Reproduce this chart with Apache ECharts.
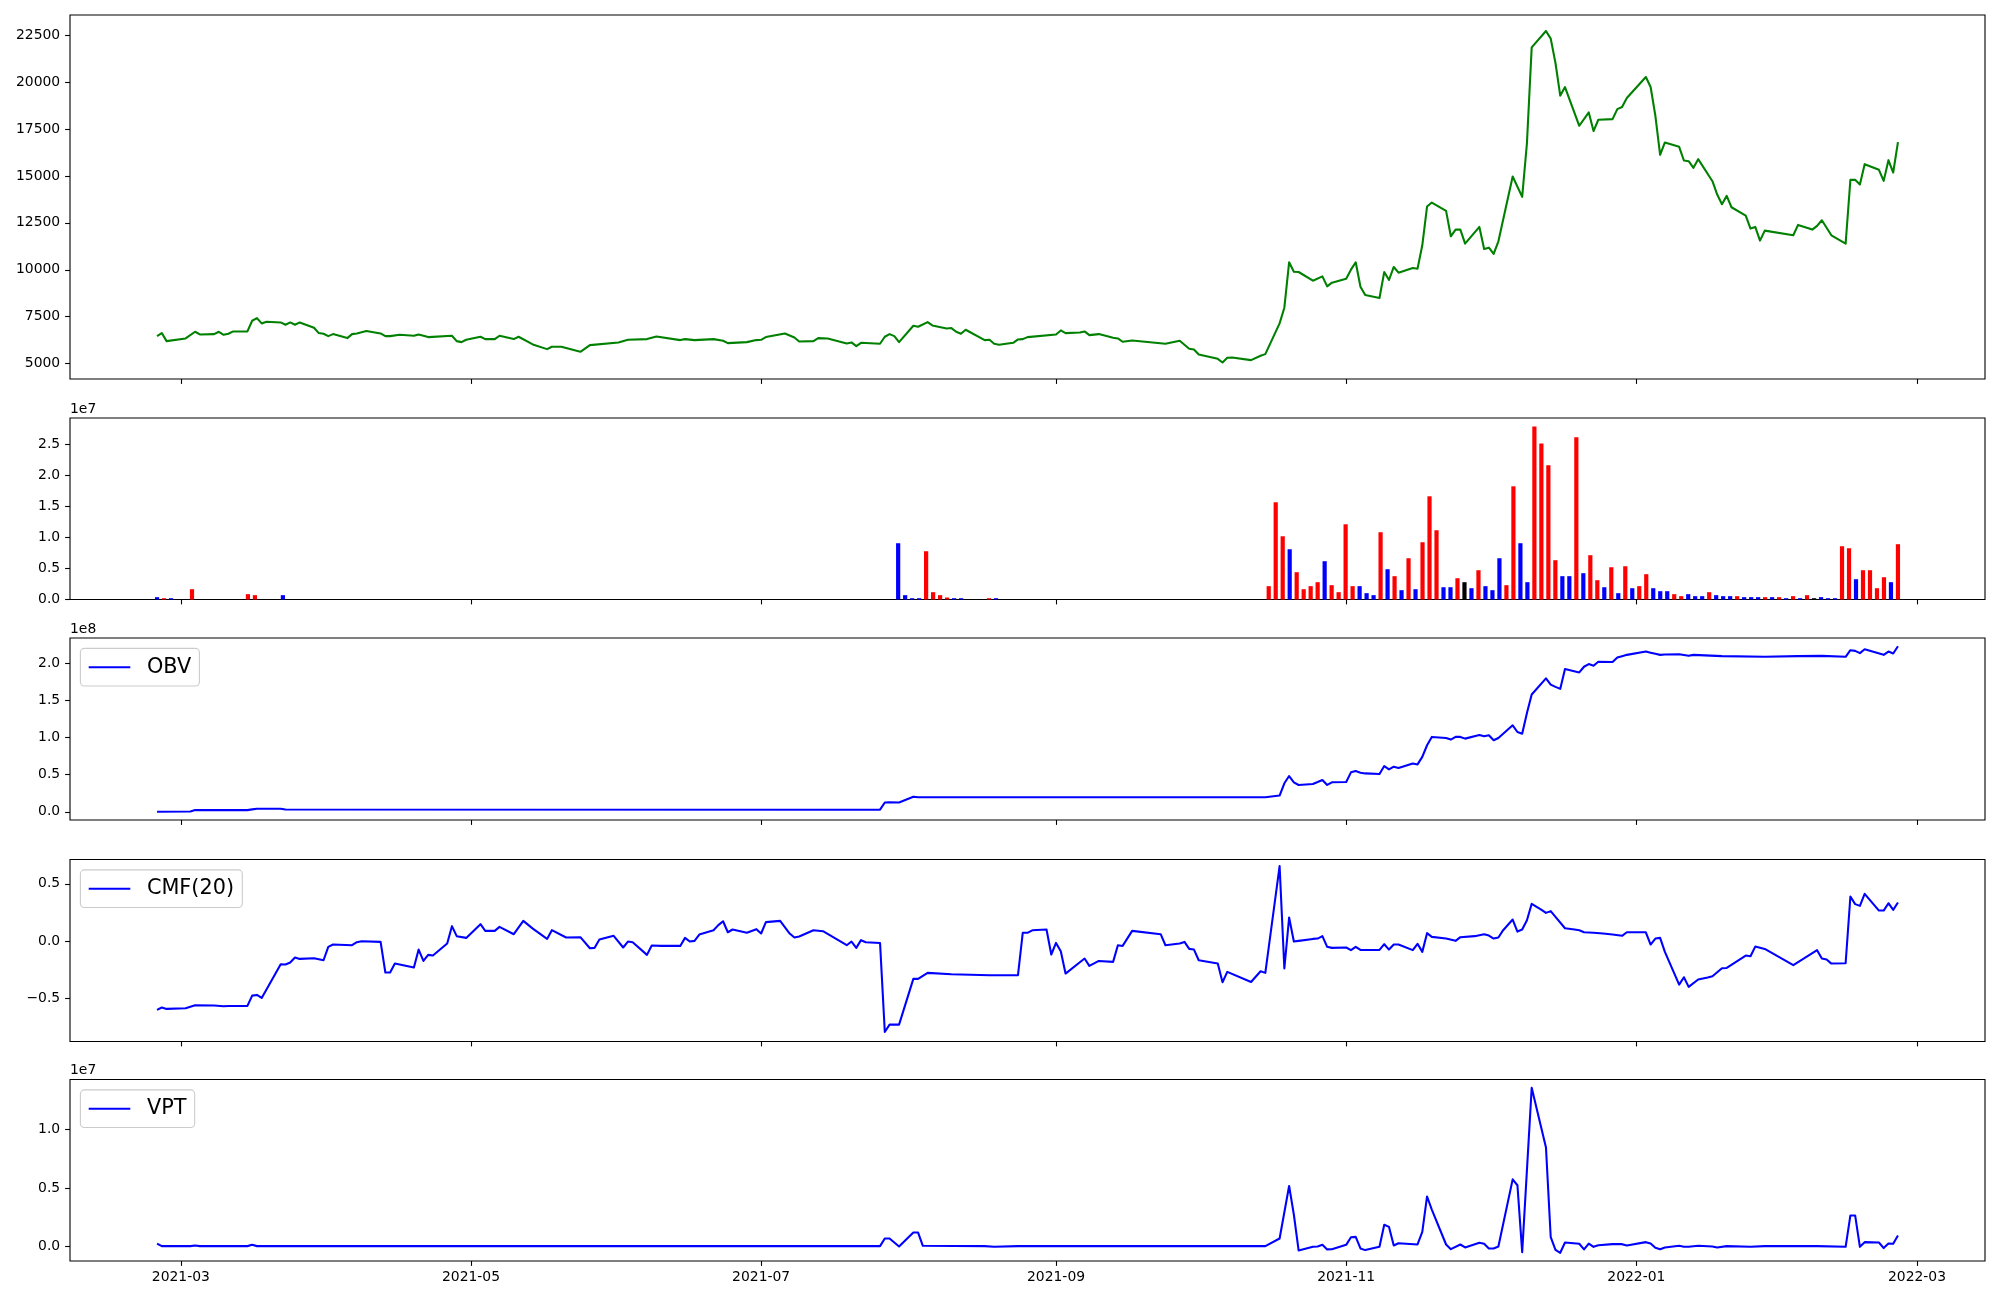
<!DOCTYPE html>
<html><head><meta charset="utf-8">
<script src="https://cdn.jsdelivr.net/npm/echarts@6/dist/echarts.min.js"></script>
<style>html,body{margin:0;padding:0;background:#fff}#c{width:2000px;height:1300px}</style>
</head><body><div id="c"></div>
<script>
// ---------- DATA ----------
const priceData = [
['2021-02-24',6460],['2021-02-25',6621],['2021-02-26',6193],['2021-03-02',6336],['2021-03-04',6692],['2021-03-05',6549],
['2021-03-08',6567],['2021-03-09',6692],['2021-03-10',6532],['2021-03-11',6585],['2021-03-12',6710],['2021-03-15',6710],
['2021-03-16',7280],['2021-03-17',7422],['2021-03-18',7137],['2021-03-19',7226],['2021-03-22',7190],['2021-03-23',7066],
['2021-03-24',7190],['2021-03-25',7066],['2021-03-26',7190],['2021-03-29',6906],['2021-03-30',6621],['2021-03-31',6585],
['2021-04-01',6460],['2021-04-02',6567],['2021-04-05',6354],['2021-04-06',6567],['2021-04-07',6603],['2021-04-09',6728],
['2021-04-12',6603],['2021-04-13',6460],['2021-04-14',6460],['2021-04-16',6532],['2021-04-19',6478],['2021-04-20',6549],
['2021-04-22',6407],['2021-04-27',6478],['2021-04-28',6193],['2021-04-29',6140],['2021-04-30',6264],['2021-05-03',6425],
['2021-05-04',6300],['2021-05-06',6300],['2021-05-07',6478],['2021-05-10',6300],['2021-05-11',6425],['2021-05-14',6015],
['2021-05-17',5766],['2021-05-18',5890],['2021-05-20',5890],['2021-05-24',5623],['2021-05-26',5980],['2021-06-01',6122],
['2021-06-03',6264],['2021-06-07',6300],['2021-06-09',6443],['2021-06-14',6247],['2021-06-15',6300],['2021-06-17',6247],
['2021-06-21',6300],['2021-06-23',6211],['2021-06-24',6086],['2021-06-28',6140],['2021-06-30',6247],['2021-07-01',6264],
['2021-07-02',6407],['2021-07-06',6603],['2021-07-08',6389],['2021-07-09',6175],['2021-07-12',6193],['2021-07-13',6354],
['2021-07-15',6336],['2021-07-19',6069],['2021-07-20',6122],['2021-07-21',5926],['2021-07-22',6104],['2021-07-26',6051],
['2021-07-27',6425],['2021-07-28',6567],['2021-07-29',6460],['2021-07-30',6140],['2021-08-02',7013],['2021-08-03',6959],
['2021-08-05',7208],['2021-08-06',7030],['2021-08-09',6870],['2021-08-10',6888],['2021-08-11',6692],['2021-08-12',6585],
['2021-08-13',6799],['2021-08-17',6247],['2021-08-18',6264],['2021-08-19',6051],['2021-08-20',5997],['2021-08-23',6104],
['2021-08-24',6282],['2021-08-25',6300],['2021-08-26',6407],['2021-09-01',6549],['2021-09-02',6763],['2021-09-03',6621],
['2021-09-06',6656],['2021-09-07',6710],['2021-09-08',6514],['2021-09-10',6567],['2021-09-13',6371],['2021-09-14',6336],
['2021-09-15',6158],['2021-09-17',6229],['2021-09-24',6051],['2021-09-27',6211],['2021-09-29',5784],['2021-09-30',5748],
['2021-10-01',5481],['2021-10-05',5249],['2021-10-06',5053],['2021-10-07',5303],['2021-10-08',5320],['2021-10-12',5178],
['2021-10-14',5410],['2021-10-15',5499],['2021-10-18',7137],['2021-10-19',7974],['2021-10-20',10397],['2021-10-21',9898],
['2021-10-22',9880],['2021-10-25',9417],['2021-10-27',9648],['2021-10-28',9114],['2021-10-29',9310],['2021-11-01',9524],
['2021-11-02',10005],['2021-11-03',10397],['2021-11-04',9096],['2021-11-05',8651],['2021-11-08',8491],['2021-11-09',9880],
['2021-11-10',9453],['2021-11-11',10148],['2021-11-12',9844],['2021-11-15',10094],['2021-11-16',10058],['2021-11-17',11305],
['2021-11-18',13371],['2021-11-19',13584],['2021-11-22',13139],['2021-11-23',11786],['2021-11-24',12142],['2021-11-25',12142],
['2021-11-26',11394],['2021-11-29',12285],['2021-11-30',11109],['2021-12-01',11180],['2021-12-02',10842],['2021-12-03',11518],
['2021-12-06',14974],['2021-12-08',13887],['2021-12-09',16755],['2021-12-10',21866],['2021-12-13',22739],['2021-12-14',22329],
['2021-12-15',21029],['2021-12-16',19284],['2021-12-17',19747],['2021-12-20',17681],['2021-12-22',18393],['2021-12-23',17396],
['2021-12-24',18001],['2021-12-27',18037],['2021-12-28',18571],['2021-12-29',18678],['2021-12-30',19159],['2022-01-03',20281],
['2022-01-04',19747],['2022-01-05',18215],['2022-01-06',16131],['2022-01-07',16790],['2022-01-10',16559],['2022-01-11',15828],
['2022-01-12',15793],['2022-01-13',15437],['2022-01-14',15900],['2022-01-17',14724],['2022-01-18',14012],['2022-01-19',13495],
['2022-01-20',13941],['2022-01-21',13335],['2022-01-24',12890],['2022-01-25',12195],['2022-01-26',12285],['2022-01-27',11554],
['2022-01-28',12088],['2022-02-03',11839],['2022-02-04',12391],['2022-02-07',12142],['2022-02-08',12338],['2022-02-09',12641],
['2022-02-11',11839],['2022-02-14',11394],['2022-02-15',14796],['2022-02-16',14796],['2022-02-17',14546],['2022-02-18',15632],
['2022-02-21',15330],['2022-02-22',14742],['2022-02-23',15846],['2022-02-24',15187],['2022-02-25',16808]
];

// market holidays (weekdays without a session) inside the plotted range
const holidays = ['2021-03-01','2021-05-05','2021-05-19','2021-08-16','2021-09-20','2021-09-21','2021-09-22',
  '2021-10-04','2021-10-11','2021-12-31','2022-01-31','2022-02-01','2022-02-02'];

// volume (units of 1e7); the volume panel places bars by session number
const volDates = [
'2021-02-24','2021-02-25','2021-02-26','2021-03-04','2021-03-16','2021-03-17','2021-03-23',
'2021-07-27','2021-07-28','2021-07-29','2021-07-30','2021-08-02','2021-08-03','2021-08-04','2021-08-05','2021-08-06','2021-08-09','2021-08-13','2021-08-17',
'2021-10-18','2021-10-19','2021-10-20','2021-10-21','2021-10-22','2021-10-25','2021-10-26','2021-10-27','2021-10-28','2021-10-29',
'2021-11-01','2021-11-02','2021-11-03','2021-11-04','2021-11-05','2021-11-08','2021-11-09','2021-11-10','2021-11-11','2021-11-12',
'2021-11-15','2021-11-16','2021-11-17','2021-11-18','2021-11-19','2021-11-22','2021-11-23','2021-11-24','2021-11-25','2021-11-26',
'2021-11-29','2021-11-30','2021-12-01','2021-12-02','2021-12-03','2021-12-06','2021-12-07','2021-12-08','2021-12-09','2021-12-10',
'2021-12-13','2021-12-14','2021-12-15','2021-12-16','2021-12-17','2021-12-20','2021-12-21','2021-12-22','2021-12-23','2021-12-24',
'2021-12-27','2021-12-28','2021-12-29','2021-12-30','2022-01-03','2022-01-04','2022-01-05','2022-01-06','2022-01-07','2022-01-10',
'2022-01-11','2022-01-12','2022-01-13','2022-01-14','2022-01-17','2022-01-18','2022-01-19','2022-01-20','2022-01-21','2022-01-24',
'2022-01-25','2022-01-26','2022-01-27','2022-01-28','2022-02-03','2022-02-04','2022-02-07','2022-02-08','2022-02-09','2022-02-10',
'2022-02-11','2022-02-14','2022-02-15','2022-02-16','2022-02-17','2022-02-18','2022-02-21','2022-02-22','2022-02-23','2022-02-24',
'2022-02-25'
];
const volE7 = [
0.038,0.021,0.021,0.166,0.086,0.070,0.070,
0.907,0.070,0.021,0.021,0.778,0.118,0.070,0.032,0.021,0.021,0.021,0.021,
0.215,1.567,1.019,0.810,0.440,0.166,0.215,0.279,0.617,0.231,
0.118,1.212,0.215,0.215,0.102,0.070,1.084,0.488,0.376,0.150,
0.665,0.166,0.923,1.663,1.116,0.198,0.198,0.343,0.279,0.182,
0.472,0.215,0.150,0.665,0.231,1.824,0.907,0.279,2.790,2.516,
2.162,0.633,0.376,0.376,2.613,0.424,0.714,0.311,0.198,0.520,
0.102,0.536,0.182,0.215,0.408,0.182,0.134,0.134,0.086,0.054,
0.086,0.054,0.054,0.118,0.070,0.054,0.054,0.054,0.038,0.038,
0.038,0.038,0.038,0.038,0.021,0.054,0.021,0.070,0.021,0.038,
0.021,0.021,0.858,0.826,0.327,0.472,0.472,0.182,0.359,0.279,
0.891
];
// r = up (red), b = down (blue), k = unchanged (black)
const volDir = 'brbrrrb' + 'bbbbrrrrbbrb' +
  'rrrbrrrrbr'+'rrrbbbrbrb'+'rbrrrbbrkb'+'rbbbrrbbrr'+'rrbbrbrrbr'+
  'brbrrbbbrr'+'bbbrbbbrbb'+'brbrbrbrkb'+'bbrrbrrrrb'+'r';

// OBV (units of 1e8)
const obvData = [
['2021-02-24',0.0],['2021-03-03',0.004],['2021-03-04',0.022],['2021-03-15',0.022],['2021-03-16',0.032],['2021-03-17',0.040],
['2021-03-22',0.040],['2021-03-23',0.031],['2021-07-26',0.028],['2021-07-27',0.125],['2021-07-28',0.128],['2021-07-30',0.125],
['2021-08-02',0.203],['2021-08-03',0.195],['2021-08-05',0.196],['2021-10-15',0.196],['2021-10-18',0.218],['2021-10-19',0.383],
['2021-10-20',0.481],['2021-10-21',0.396],['2021-10-22',0.360],['2021-10-25',0.374],['2021-10-26',0.400],['2021-10-27',0.428],
['2021-10-28',0.361],['2021-10-29',0.396],['2021-11-01',0.401],['2021-11-02',0.530],['2021-11-03',0.548],['2021-11-04',0.526],
['2021-11-05',0.516],['2021-11-08',0.508],['2021-11-09',0.615],['2021-11-10',0.570],['2021-11-11',0.606],['2021-11-12',0.588],
['2021-11-15',0.650],['2021-11-16',0.637],['2021-11-17',0.739],['2021-11-18',0.895],['2021-11-19',1.007],['2021-11-22',0.993],
['2021-11-23',0.971],['2021-11-24',1.007],['2021-11-25',1.007],['2021-11-26',0.984],['2021-11-29',1.033],['2021-11-30',1.016],
['2021-12-01',1.029],['2021-12-02',0.962],['2021-12-03',0.993],['2021-12-06',1.163],['2021-12-07',1.073],['2021-12-08',1.051],
['2021-12-09',1.330],['2021-12-10',1.577],['2021-12-13',1.795],['2021-12-14',1.710],['2021-12-15',1.680],['2021-12-16',1.653],
['2021-12-17',1.920],['2021-12-20',1.875],['2021-12-21',1.951],['2021-12-22',1.987],['2021-12-23',1.964],['2021-12-24',2.018],
['2021-12-27',2.015],['2021-12-28',2.076],['2021-12-29',2.094],['2021-12-30',2.111],['2022-01-03',2.156],['2022-01-04',2.140],
['2022-01-05',2.125],['2022-01-06',2.111],['2022-01-07',2.115],['2022-01-10',2.120],['2022-01-12',2.098],['2022-01-13',2.111],
['2022-01-19',2.094],['2022-01-28',2.085],['2022-02-04',2.094],['2022-02-09',2.098],['2022-02-14',2.085],['2022-02-15',2.174],
['2022-02-16',2.165],['2022-02-17',2.134],['2022-02-18',2.187],['2022-02-22',2.111],['2022-02-23',2.156],['2022-02-24',2.129],
['2022-02-25',2.227]
];

const cmfData = [
['2021-02-24',-0.599],['2021-02-25',-0.578],['2021-02-26',-0.590],['2021-03-02',-0.584],['2021-03-04',-0.558],['2021-03-08',-0.561],
['2021-03-10',-0.567],['2021-03-11',-0.564],['2021-03-15',-0.564],['2021-03-16',-0.474],['2021-03-17',-0.468],['2021-03-18',-0.494],
['2021-03-22',-0.201],['2021-03-23',-0.203],['2021-03-24',-0.186],['2021-03-25',-0.142],['2021-03-26',-0.154],['2021-03-29',-0.148],
['2021-03-31',-0.166],['2021-04-01',-0.049],['2021-04-02',-0.029],['2021-04-06',-0.035],['2021-04-07',-0.009],['2021-04-08',0.0],
['2021-04-12',-0.006],['2021-04-13',-0.273],['2021-04-14',-0.273],['2021-04-15',-0.195],['2021-04-19',-0.230],['2021-04-20',-0.073],
['2021-04-21',-0.172],['2021-04-22',-0.119],['2021-04-23',-0.125],['2021-04-26',-0.020],['2021-04-27',0.131],['2021-04-28',0.044],
['2021-04-30',0.029],['2021-05-03',0.148],['2021-05-04',0.090],['2021-05-06',0.090],['2021-05-07',0.125],['2021-05-10',0.061],
['2021-05-12',0.177],['2021-05-14',0.110],['2021-05-17',0.020],['2021-05-18',0.096],['2021-05-21',0.032],['2021-05-24',0.035],
['2021-05-26',-0.061],['2021-05-27',-0.058],['2021-05-28',0.015],['2021-05-31',0.047],['2021-06-02',-0.055],['2021-06-03',-0.003],
['2021-06-04',-0.009],['2021-06-07',-0.119],['2021-06-08',-0.038],['2021-06-10',-0.041],['2021-06-14',-0.041],['2021-06-15',0.029],
['2021-06-16',-0.003],['2021-06-17',0.003],['2021-06-18',0.058],['2021-06-21',0.096],['2021-06-22',0.140],['2021-06-23',0.174],
['2021-06-24',0.078],['2021-06-25',0.102],['2021-06-28',0.073],['2021-06-30',0.105],['2021-07-01',0.067],['2021-07-02',0.166],
['2021-07-05',0.177],['2021-07-07',0.067],['2021-07-08',0.032],['2021-07-09',0.041],['2021-07-12',0.096],['2021-07-14',0.087],
['2021-07-19',-0.035],['2021-07-20',-0.003],['2021-07-21',-0.058],['2021-07-22',0.009],['2021-07-23',-0.009],['2021-07-26',-0.015],
['2021-07-27',-0.791],['2021-07-28',-0.727],['2021-07-30',-0.727],['2021-08-02',-0.328],['2021-08-03',-0.328],['2021-08-05',-0.276],
['2021-08-10',-0.288],['2021-08-18',-0.297],['2021-08-24',-0.296],['2021-08-25',0.073],['2021-08-26',0.073],['2021-08-27',0.095],
['2021-08-30',0.102],['2021-08-31',-0.116],['2021-09-01',-0.015],['2021-09-02',-0.087],['2021-09-03',-0.282],['2021-09-07',-0.151],
['2021-09-08',-0.215],['2021-09-10',-0.172],['2021-09-13',-0.180],['2021-09-14',-0.035],['2021-09-15',-0.041],['2021-09-17',0.090],
['2021-09-23',0.061],['2021-09-24',-0.035],['2021-09-27',-0.020],['2021-09-28',-0.006],['2021-09-29',-0.067],['2021-09-30',-0.073],
['2021-10-01',-0.166],['2021-10-05',-0.195],['2021-10-06',-0.358],['2021-10-07',-0.267],['2021-10-12',-0.355],['2021-10-14',-0.262],
['2021-10-15',-0.276],['2021-10-18',0.654],['2021-10-19',-0.238],['2021-10-20',0.206],['2021-10-21',-0.003],['2021-10-22',0.003],
['2021-10-25',0.020],['2021-10-26',0.023],['2021-10-27',0.044],['2021-10-28',-0.049],['2021-10-29',-0.058],['2021-11-01',-0.055],
['2021-11-02',-0.078],['2021-11-03',-0.049],['2021-11-04',-0.076],['2021-11-08',-0.076],['2021-11-09',-0.026],['2021-11-10',-0.073],
['2021-11-11',-0.029],['2021-11-12',-0.029],['2021-11-15',-0.078],['2021-11-16',-0.023],['2021-11-17',-0.093],['2021-11-18',0.070],
['2021-11-19',0.038],['2021-11-22',0.023],['2021-11-24',0.003],['2021-11-25',0.035],['2021-11-28',0.044],['2021-11-30',0.061],
['2021-12-01',0.049],['2021-12-02',0.023],['2021-12-03',0.032],['2021-12-04',0.096],['2021-12-06',0.189],['2021-12-07',0.084],
['2021-12-08',0.102],['2021-12-09',0.183],['2021-12-10',0.326],['2021-12-12',0.276],['2021-12-13',0.247],['2021-12-14',0.262],
['2021-12-15',0.212],['2021-12-17',0.113],['2021-12-19',0.102],['2021-12-20',0.096],['2021-12-21',0.078],['2021-12-23',0.073],
['2021-12-25',0.067],['2021-12-27',0.058],['2021-12-29',0.047],['2021-12-30',0.078],['2022-01-03',0.078],['2022-01-04',-0.029],
['2022-01-05',0.023],['2022-01-06',0.029],['2022-01-07',-0.093],['2022-01-10',-0.378],['2022-01-11',-0.314],['2022-01-12',-0.398],
['2022-01-14',-0.334],['2022-01-16',-0.317],['2022-01-17',-0.305],['2022-01-19',-0.235],['2022-01-20',-0.233],['2022-01-24',-0.125],
['2022-01-25',-0.131],['2022-01-26',-0.047],['2022-01-28',-0.067],['2022-02-03',-0.209],['2022-02-08',-0.078],['2022-02-09',-0.151],
['2022-02-10',-0.160],['2022-02-11',-0.195],['2022-02-14',-0.192],['2022-02-15',0.390],['2022-02-16',0.323],['2022-02-17',0.308],
['2022-02-18',0.413],['2022-02-21',0.267],['2022-02-22',0.267],['2022-02-23',0.331],['2022-02-24',0.273],['2022-02-25',0.337]
];

// VPT (units of 1e7)
const vptData = [
['2021-02-24',0.025],['2021-02-25',0.003],['2021-03-03',0.003],['2021-03-04',0.008],['2021-03-05',0.003],['2021-03-15',0.003],
['2021-03-16',0.014],['2021-03-17',0.003],['2021-07-26',0.003],['2021-07-27',0.068],['2021-07-28',0.068],['2021-07-30',0.0],
['2021-08-02',0.119],['2021-08-03',0.119],['2021-08-04',0.006],['2021-08-17',0.003],['2021-08-19',-0.003],['2021-08-24',0.003],
['2021-10-15',0.003],['2021-10-18',0.068],['2021-10-20',0.517],['2021-10-21',0.271],['2021-10-22',-0.034],['2021-10-25',-0.003],
['2021-10-26',0.0],['2021-10-27',0.014],['2021-10-28',-0.025],['2021-10-29',-0.023],['2021-11-01',0.014],['2021-11-02',0.079],
['2021-11-03',0.082],['2021-11-04',-0.017],['2021-11-05',-0.031],['2021-11-08',-0.003],['2021-11-09',0.186],['2021-11-10',0.167],
['2021-11-11',0.008],['2021-11-12',0.028],['2021-11-16',0.017],['2021-11-17',0.124],['2021-11-18',0.427],['2021-11-19',0.315],
['2021-11-22',0.017],['2021-11-23',-0.023],['2021-11-25',0.017],['2021-11-26',-0.008],['2021-11-29',0.031],['2021-11-30',0.023],
['2021-12-01',-0.017],['2021-12-02',-0.017],['2021-12-03',0.0],['2021-12-06',0.573],['2021-12-07',0.523],['2021-12-08',-0.048],
['2021-12-10',1.356],['2021-12-13',0.845],['2021-12-14',0.079],['2021-12-15',-0.028],['2021-12-16',-0.054],['2021-12-17',0.034],
['2021-12-20',0.023],['2021-12-21',-0.025],['2021-12-22',0.025],['2021-12-23',-0.003],['2021-12-24',0.011],['2021-12-27',0.020],
['2021-12-29',0.020],['2021-12-30',0.008],['2022-01-03',0.037],['2022-01-04',0.025],['2022-01-05',-0.011],['2022-01-06',-0.023],
['2022-01-07',-0.008],['2022-01-10',0.006],['2022-01-11',-0.003],['2022-01-12',-0.003],['2022-01-14',0.006],['2022-01-17',0.0],
['2022-01-18',-0.008],['2022-01-20',0.003],['2022-01-25',-0.003],['2022-01-28',0.003],['2022-02-08',0.003],['2022-02-14',-0.003],
['2022-02-15',0.265],['2022-02-16',0.265],['2022-02-17',-0.003],['2022-02-18',0.037],['2022-02-21',0.034],['2022-02-22',-0.014],
['2022-02-23',0.025],['2022-02-24',0.023],['2022-02-25',0.093]
];

const xTickDates = ['2021-03-01','2021-05-01','2021-07-01','2021-09-01','2021-11-01','2022-01-01','2022-03-01'];
const priceTicks = [5000,7500,10000,12500,15000,17500,20000,22500];
const volTicks = [0,0.5,1.0,1.5,2.0,2.5];
const obvTicks = [0,0.5,1.0,1.5,2.0];
const cmfTicks = [-0.5,0,0.5];
const vptTicks = [0,0.5,1.0];

// ---------- CHART ----------
const DAY = 86400000;
function ts(s){const p=s.split('-').map(Number);return Date.UTC(p[0],p[1]-1,p[2]);}
function iso(t){return new Date(t).toISOString().slice(0,10);}
const FONT = 'DejaVu Sans';
const tStart = ts(priceData[0][0]), tEnd = ts(priceData[priceData.length-1][0]);
const pad = (tEnd - tStart) * 0.05;
const xTicks = xTickDates.map(ts);
const colorMap = {r:'#ff0000', b:'#0000ff', k:'#000000'};

// session calendar: weekdays that are not holidays
const sessions = [];
for (let t = tStart; t <= tEnd; t += DAY) {
  const w = new Date(t).getUTCDay(), s = iso(t);
  if (w !== 0 && w !== 6 && holidays.indexOf(s) < 0) sessions.push(s);
}
// volume bars sit on an evenly spaced session grid spanning the same date range
const sessStep = (tEnd - tStart) / (sessions.length - 1);
const sessX = d => tStart + sessions.indexOf(d) * sessStep;

const gridPos = [
  {top:15, height:364},
  {top:418, height:181.5},
  {top:638, height:182},
  {top:859.5, height:182},
  {top:1079.5, height:181.5}
];
const grids = gridPos.map(g => ({left:70, right:15, top:g.top, height:g.height, show:true,
  borderColor:'#000', borderWidth:1.1, backgroundColor:'rgba(0,0,0,0)', containLabel:false}));

const tickStyle = {show:true, length:4.9, inside:false, lineStyle:{color:'#000', width:1.1}};
const labelStyle = {color:'#000', fontSize:13.9, fontFamily:FONT, margin:9.8};

const xAxes = grids.map((g,i) => ({
  type:'value', gridIndex:i, position:'bottom', min:tStart-pad, max:tEnd+pad, scale:true,
  axisLine:{show:false, onZero:false}, splitLine:{show:false},
  axisTick:Object.assign({customValues:xTicks}, tickStyle),
  axisLabel:Object.assign({show:i===4, customValues:xTicks,
    formatter:v=>{const d=new Date(v);return d.getUTCFullYear()+'-'+String(d.getUTCMonth()+1).padStart(2,'0');}}, labelStyle)
}));

function yAx(i, min, max, ticks, fmt){
  return {type:'value', gridIndex:i, position:'left', min:min, max:max, scale:true,
    axisLine:{show:false, onZero:false}, splitLine:{show:false},
    axisTick:Object.assign({customValues:ticks}, tickStyle),
    axisLabel:Object.assign({customValues:ticks, formatter:fmt}, labelStyle)};
}
const f1 = v => (v<0?'\u2212':'') + Math.abs(v).toFixed(1);
const yAxes = [
  yAx(0, 4172, 23590, priceTicks, v=>String(Math.round(v))),
  yAx(1, 0, 2.925, volTicks, f1),
  yAx(2, -0.111, 2.338, obvTicks, f1),
  yAx(3, -0.874, 0.712, cmfTicks, f1),
  yAx(4, -0.124, 1.426, vptTicks, f1)
];

const toXY = arr => arr.map(p => [ts(p[0]), p[1]]);
const lineSeries = (name, idx, data, color) => ({
  name:name, type:'line', xAxisIndex:idx, yAxisIndex:idx, data:toXY(data),
  symbol:'none', showSymbol:false, smooth:false, animation:false,
  lineStyle:{color:color, width:2.08, join:'round', cap:'butt'}, itemStyle:{color:color}
});

const series = [
  lineSeries('Close', 0, priceData, '#008000'),
  {type:'bar', xAxisIndex:1, yAxisIndex:1, barWidth:4.2, animation:false,
    data: volDates.map((d,i)=>({value:[sessX(d), volE7[i]], itemStyle:{color:colorMap[volDir[i]]}}))},
  lineSeries('OBV', 2, obvData, '#0000ff'),
  lineSeries('CMF(20)', 3, cmfData, '#0000ff'),
  lineSeries('VPT', 4, vptData, '#0000ff')
];

const legendBase = {orient:'horizontal', left:80.4, icon:'rect', itemWidth:41.6, itemHeight:2.1, itemGap:0,
  selectedMode:false, padding:[8.3,8.3,8.3,8.3], backgroundColor:'rgba(255,255,255,0.8)',
  borderColor:'#cccccc', borderWidth:1.1, borderRadius:4,
  textStyle:{color:'#000', fontSize:20.8, fontFamily:FONT, lineHeight:20.4, padding:[0,0,0,11.6]}};
const legends = [
  Object.assign({data:['OBV'], top:648.4}, legendBase),
  Object.assign({data:['CMF(20)'], top:869.9}, legendBase),
  Object.assign({data:['VPT'], top:1089.9}, legendBase)
];

const offTxt = (t, top) => ({type:'text', left:70, top:top, silent:true,
  style:{text:t, fontSize:13.9, fontFamily:FONT, fill:'#000'}});

const chart = echarts.init(document.getElementById('c'), null, {renderer:'canvas', width:2000, height:1300});
chart.setOption({
  backgroundColor:'#ffffff',
  animation:false,
  grid:grids, xAxis:xAxes, yAxis:yAxes, series:series, legend:legends,
  graphic:[offTxt('1e7', 402), offTxt('1e8', 622), offTxt('1e7', 1063)]
});
</script></body></html>
